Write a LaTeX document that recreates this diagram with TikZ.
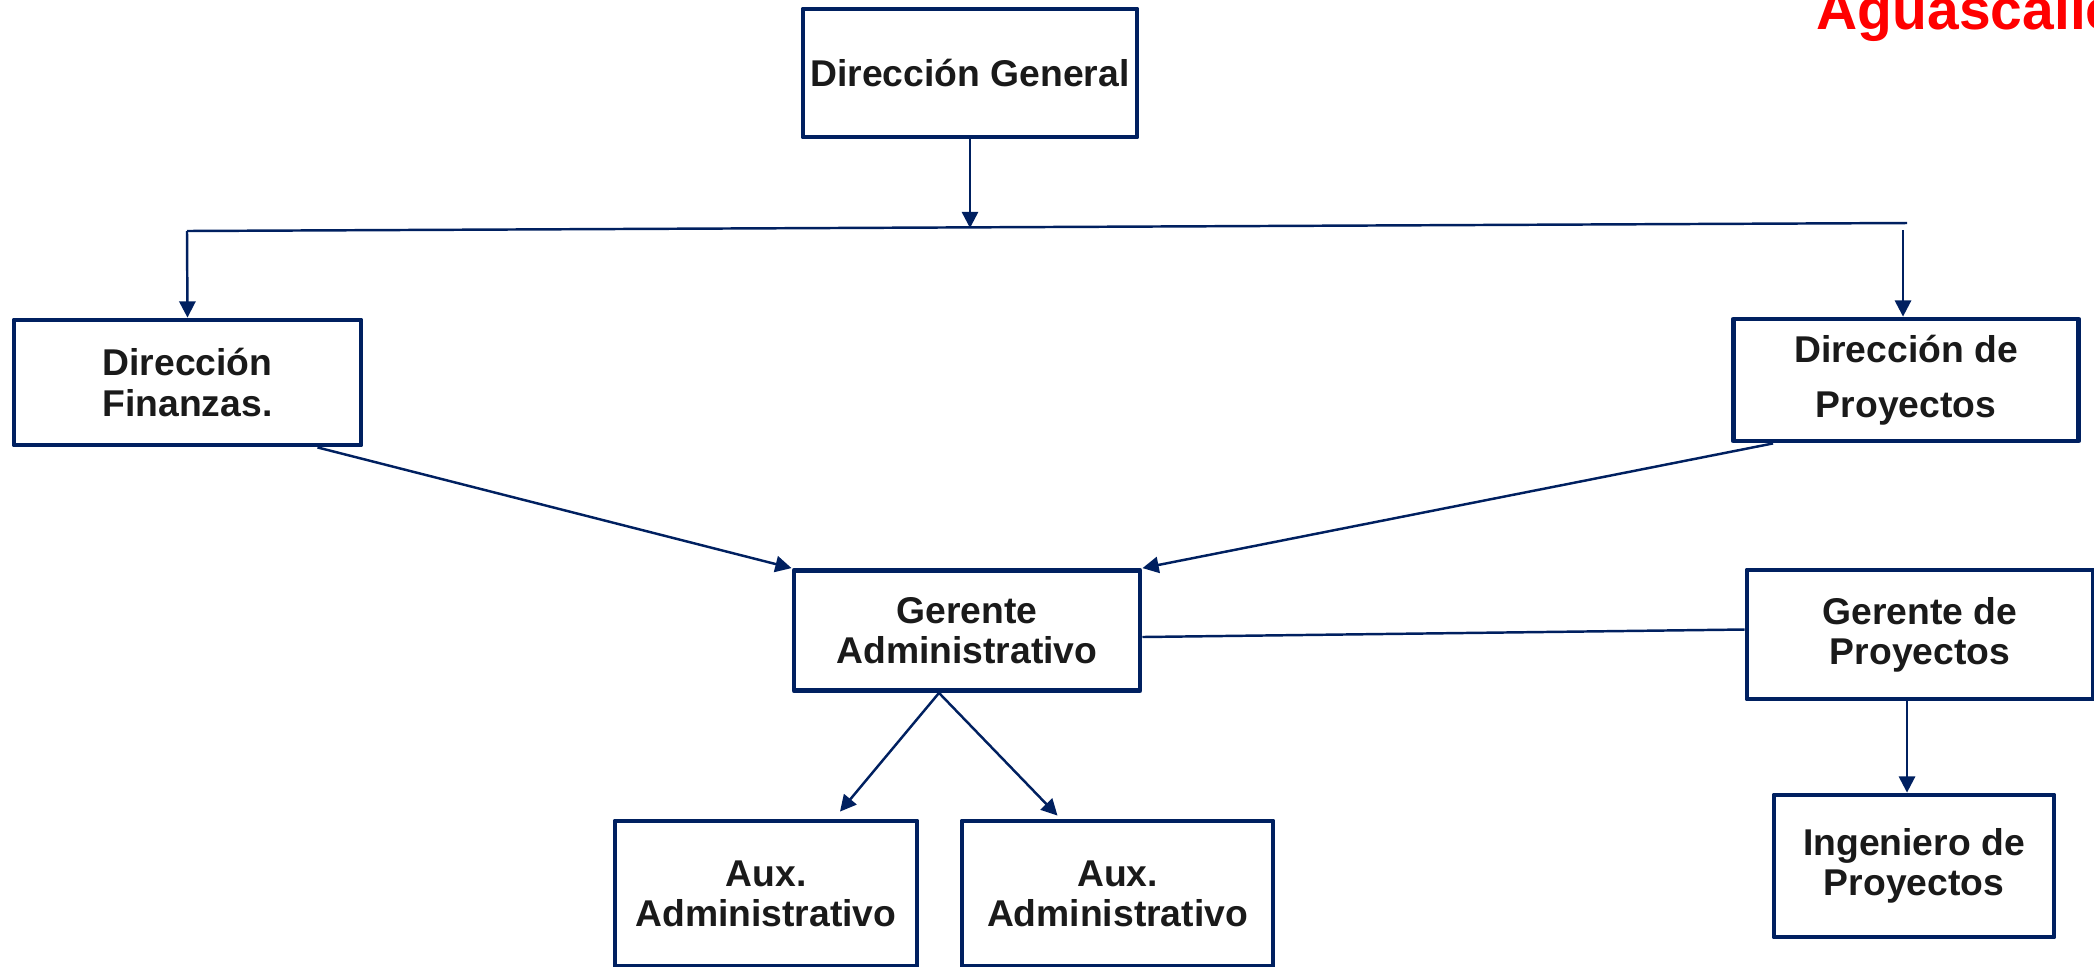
\documentclass[tikz,border=0pt]{standalone}
\usepackage{fontspec}
\setmainfont{Liberation Sans}
\usepackage{xcolor}
\usepackage{tikz}
\usetikzlibrary{arrows.meta}
\usetikzlibrary{calc}

\definecolor{azul}{HTML}{002060}
\definecolor{texto}{HTML}{1A1A1A}

\begin{document}
\begin{tikzpicture}[x=0.01cm, y=-0.01cm,
  puesto/.style={draw=azul, line width=1.35pt, line join=round, fill=white,
    align=center, text=texto, inner sep=0pt,
    font=\bfseries\fontsize{10.6}{11.4}\selectfont},
  flecha/.style={draw=azul, line width=0.7pt, -{Triangle[width=4.6pt,length=4.6pt]}},
  linea/.style={draw=azul, line width=0.7pt}]
\useasboundingbox (0,0) rectangle (2094,966);

\node[puesto, minimum width=3.34cm, minimum height=1.28cm] (dg) at (970,73) {Direcci\'on General};
\node[puesto, minimum width=3.47cm, minimum height=1.25cm] (df) at (187.5,382.5) {Direcci\'on\\Finanzas.};
\node[puesto, minimum width=3.45cm, minimum height=1.22cm,
  font=\bfseries\fontsize{10.6}{15.6}\selectfont] (dp) at (1906,380) {Direcci\'on de\\Proyectos};
\node[puesto, minimum width=3.46cm, minimum height=1.20cm] (ga) at (967,630.5) {Gerente\\Administrativo};
\node[puesto, minimum width=3.46cm, minimum height=1.29cm] (gp) at (1920,634.5) {Gerente de\\Proyectos};
\node[puesto, minimum width=3.02cm, minimum height=1.45cm] (auxa) at (766,893.5) {Aux.\\Administrativo};
\node[puesto, minimum width=3.11cm, minimum height=1.45cm] (auxb) at (1117.5,893.5) {Aux.\\Administrativo};
\node[puesto, minimum width=2.80cm, minimum height=1.42cm] (ip) at (1914,866) {Ingeniero de\\Proyectos};

\node[anchor=base west, inner sep=0pt, text=red,
  font=\bfseries\fontsize{16.2}{18}\selectfont] (titulo) at (1816,29) {Aguascalientes};

% linea de reparto
\coordinate (busL) at (187,231);
\coordinate (busR) at (1907,223);
\coordinate (busM) at (970,228);
\coordinate (dpin) at (1903,230);
\draw[linea] (busL) -- (busR);
\draw[flecha] (dg.south) -- (busM);
\draw[flecha] (busL) -- (df.north);
\draw[flecha] (dpin) -- (dpin |- dp.north);

\draw[flecha] ($(df.south)+(130,0)$) -- (ga.north west);
\draw[flecha] ($(dp.south west)+(42,0)$) -- (ga.north east);
\draw[linea] ($(ga.east)+(0,6.5)$) -- ($(gp.west)+(0,-5)$);

\coordinate (gafork) at ($(ga.south)+(-28,0)$);
\draw[flecha] (gafork) -- ($(auxa.north)+(74,-7)$);
\draw[flecha] (gafork) -- ($(auxb.north)+(-60,-3)$);

\draw[flecha] ($(gp.south)+(-13,0)$) coordinate (gpout) -- (gpout |- ip.north);
\end{tikzpicture}
\end{document}
